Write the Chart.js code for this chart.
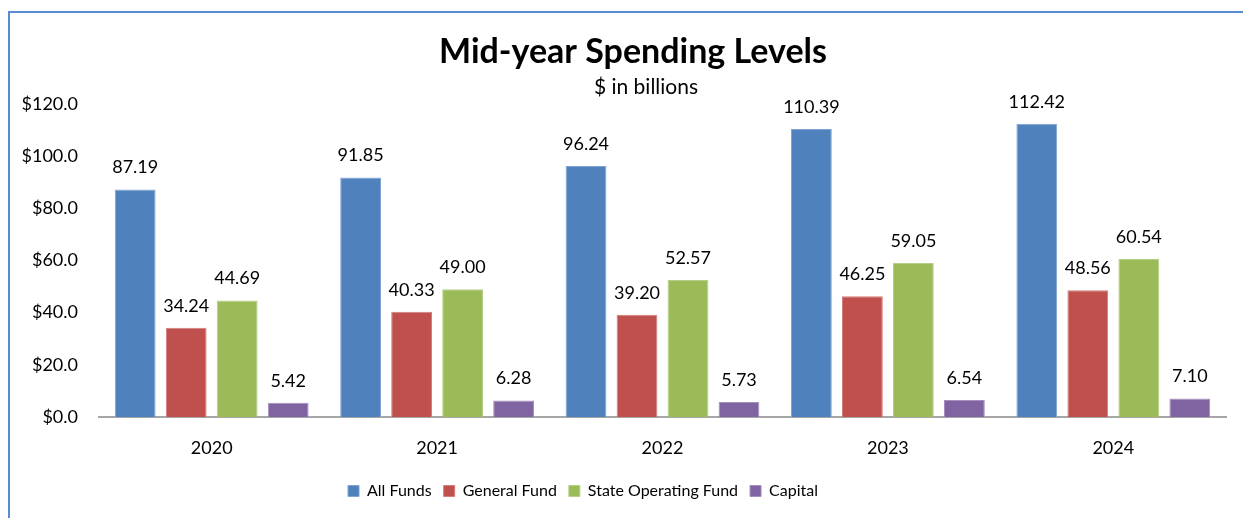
<!DOCTYPE html>
<html>
<head>
<meta charset="utf-8">
<script src="https://cdn.jsdelivr.net/npm/chart.js@4/dist/chart.umd.min.js"></script>
<style>
  html, body { margin: 0; padding: 0; background: #fff; overflow: hidden; }
  #wrap { position: relative; width: 1243px; height: 518px; }
  #frame {
    position: absolute; left: 8px; top: 11px; width: 1400px; height: 700px;
    border-left: 2px solid #5b8bd0; border-top: 2px solid #5b8bd0;
  }
  #chart { position: absolute; left: 0; top: 0; }
</style>
</head>
<body>
<div id="wrap">
  <div id="frame"></div>
  <canvas id="chart" width="1243" height="518"></canvas>
</div>
<script>
const years = ['2020', '2021', '2022', '2023', '2024'];
const allFunds = [87.19, 91.85, 96.24, 110.39, 112.42];
const generalFund = [34.24, 40.33, 39.20, 46.25, 48.56];
const stateOperating = [44.69, 49.00, 52.57, 59.05, 60.54];
const capital = [5.42, 6.28, 5.73, 6.54, 7.10];
const yTicks = [0, 20, 40, 60, 80, 100, 120];

const FONT = 'Lato, "Open Sans", sans-serif';

// value labels above each bar
const barLabels = {
  id: 'barLabels',
  afterDatasetsDraw(chart) {
    const ctx = chart.ctx;
    ctx.save();
    ctx.font = '18px ' + FONT;
    ctx.fillStyle = '#000';
    ctx.textAlign = 'center';
    ctx.textBaseline = 'middle';
    chart.data.datasets.forEach((ds, i) => {
      chart.getDatasetMeta(i).data.forEach((bar, j) => {
        ctx.fillText(ds.data[j].toFixed(2), bar.x, bar.y - 22);
      });
    });
    ctx.restore();
  }
};

// nudge title boxes and legend sideways after layout
const boxShift = {
  id: 'boxShift',
  afterLayout(chart) {
    const move = (box, dx) => { if (box) { box.left += dx; box.right += dx; } };
    chart.boxes.forEach(b => {
      if (b.options && b.options.text === 'Mid-year Spending Levels') move(b, 9);
      else if (b.options && b.options.text === '$ in billions') move(b, 22);
    });
    move(chart.legend, -41);
  }
};

new Chart(document.getElementById('chart'), {
  type: 'bar',
  data: {
    labels: years,
    datasets: [
      { label: 'All Funds', data: allFunds, backgroundColor: '#4f81bd', borderColor: '#7fa3d2' },
      { label: 'General Fund', data: generalFund, backgroundColor: '#c0504d', borderColor: '#d17e7c' },
      { label: 'State Operating Fund', data: stateOperating, backgroundColor: '#9bbb59', borderColor: '#b6cf86' },
      { label: 'Capital', data: capital, backgroundColor: '#8064a2', borderColor: '#a48fbd' }
    ].map(d => Object.assign(d, { borderWidth: 1, categoryPercentage: 0.905, barPercentage: 0.8 }))
  },
  options: {
    responsive: false,
    animation: false,
    layout: { padding: { left: 22, right: 17, top: 0, bottom: 9 } },
    plugins: {
      title: {
        display: true,
        text: 'Mid-year Spending Levels',
        color: '#000',
        font: { family: FONT, size: 34, weight: 'bold', lineHeight: 1.2 },
        padding: { top: 32, bottom: 0 }
      },
      subtitle: {
        display: true,
        text: '$ in billions',
        color: '#000',
        font: { family: FONT, size: 21, lineHeight: 1.2 },
        padding: { top: 2, bottom: 4 }
      },
      legend: {
        position: 'bottom',
        labels: {
          color: '#000',
          font: { family: FONT, size: 16 },
          boxWidth: 11,
          boxHeight: 11,
          padding: 12
        }
      },
      tooltip: { enabled: false }
    },
    scales: {
      x: {
        afterFit(scale) { scale.height = 54; },
        grid: { display: false, drawTicks: false },
        border: { display: true, color: '#a6a6a6', width: 2 },
        ticks: { color: '#000', font: { family: FONT, size: 18 }, padding: 20 }
      },
      y: {
        min: 0,
        max: 120,
        afterBuildTicks(scale) { scale.ticks = yTicks.map(v => ({ value: v })); },
        afterFit(scale) { scale.width = 77; },
        grid: { display: false, drawTicks: false },
        border: { display: false },
        ticks: {
          color: '#000',
          font: { family: FONT, size: 18 },
          padding: 21,
          callback: v => '$' + Number(v).toFixed(1)
        }
      }
    }
  },
  plugins: [barLabels, boxShift]
});
</script>
</body>
</html>
